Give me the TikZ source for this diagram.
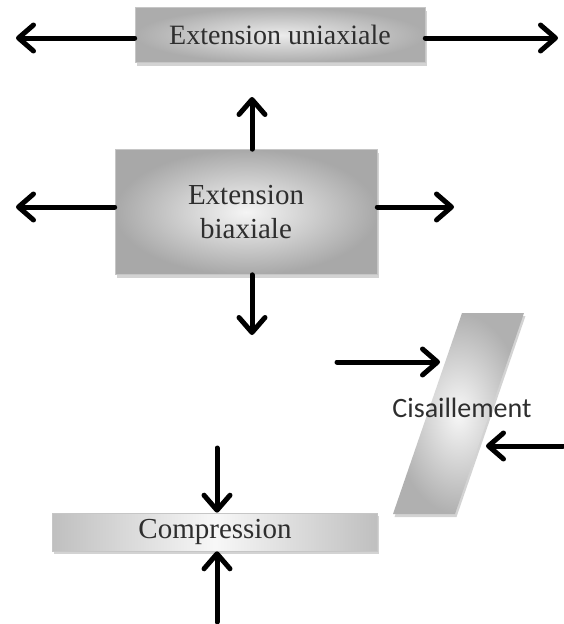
\documentclass[tikz,border=0pt]{standalone}
\usepackage{fontspec}
\setmainfont{Liberation Serif}
\newfontfamily\shearfont{Carlito}
\usetikzlibrary{arrows.meta,shadows}
\definecolor{inkgray}{HTML}{2E2E2E}
\tikzset{
  force/.style={line width=5pt, line cap=round,
    -{Straight Barb[length=15pt,width=26pt,line width=5pt,round]}},
  boxshadow/.style={drop shadow={shadow xshift=1.5pt, shadow yshift=-3pt, opacity=0.35, fill=gray}},
  loadbox/.style={rectangle, draw=gray!45, line width=0.6pt, text=inkgray, boxshadow},
}
\begin{document}
\begin{tikzpicture}[x=1pt,y=-1pt]
  \useasboundingbox (0,0) rectangle (563,624);

  % uniaxial extension
  \node[loadbox, minimum width=290pt, minimum height=55pt,
        inner color=gray!15, outer color=gray!65,
        font=\fontsize{28}{32}\selectfont] (uni) at (280,35) {Extension uniaxiale};
  \coordinate (uniL) at (16,38);
  \coordinate (uniR) at (558,38);
  \draw[force] (uni.west |- uniL) -- (uniL);
  \draw[force] (uni.east |- uniR) -- (uniR);

  % biaxial extension
  \node[loadbox, minimum width=262pt, minimum height=125pt,
        inner color=gray!8, outer color=gray!68, align=center,
        font=\fontsize{29}{34}\selectfont] (bi) at (246,212) {Extension\\biaxiale};
  \coordinate (biU) at (252,97);
  \coordinate (biD) at (252,335);
  \coordinate (biL) at (16,207);
  \coordinate (biR) at (454,207);
  \draw[force] (bi.north -| biU) -- (biU);
  \draw[force] (bi.south -| biD) -- (biD);
  \draw[force] (bi.west |- biL) -- (biL);
  \draw[force] (bi.east |- biR) -- (biR);

  % shear: slanted slab
  \coordinate (s1) at (462,313);
  \coordinate (s2) at (524,313);
  \coordinate (s3) at (455,514);
  \coordinate (s4) at (393,514);
  \shade[inner color=gray!6, outer color=gray!62, boxshadow]
    (s1) -- (s2) -- (s3) -- (s4) -- cycle;
  \node[text=inkgray, font=\shearfont\fontsize{28}{32}\selectfont] (shear) at (462,408) {Cisaillement};
  \coordinate (shLfrom) at (337,362);
  \coordinate (shLtip) at (440,362);
  \coordinate (shRfrom) at (563,446);
  \coordinate (shRtip) at (486,446);
  \draw[force] (shLfrom) -- (shLtip);
  \draw[force] (shRfrom) -- (shRtip);

  % compression
  \node[loadbox, minimum width=325pt, minimum height=38pt,
        left color=gray!50, right color=gray!50, middle color=gray!6,
        font=\fontsize{29}{32}\selectfont] (comp) at (215,532) {Compression};
  \coordinate (cpT) at (217,448);
  \coordinate (cpB) at (217,622);
  \draw[force] (cpT) -- (comp.north -| cpT);
  \draw[force] (cpB) -- (comp.south -| cpB);
\end{tikzpicture}
\end{document}
